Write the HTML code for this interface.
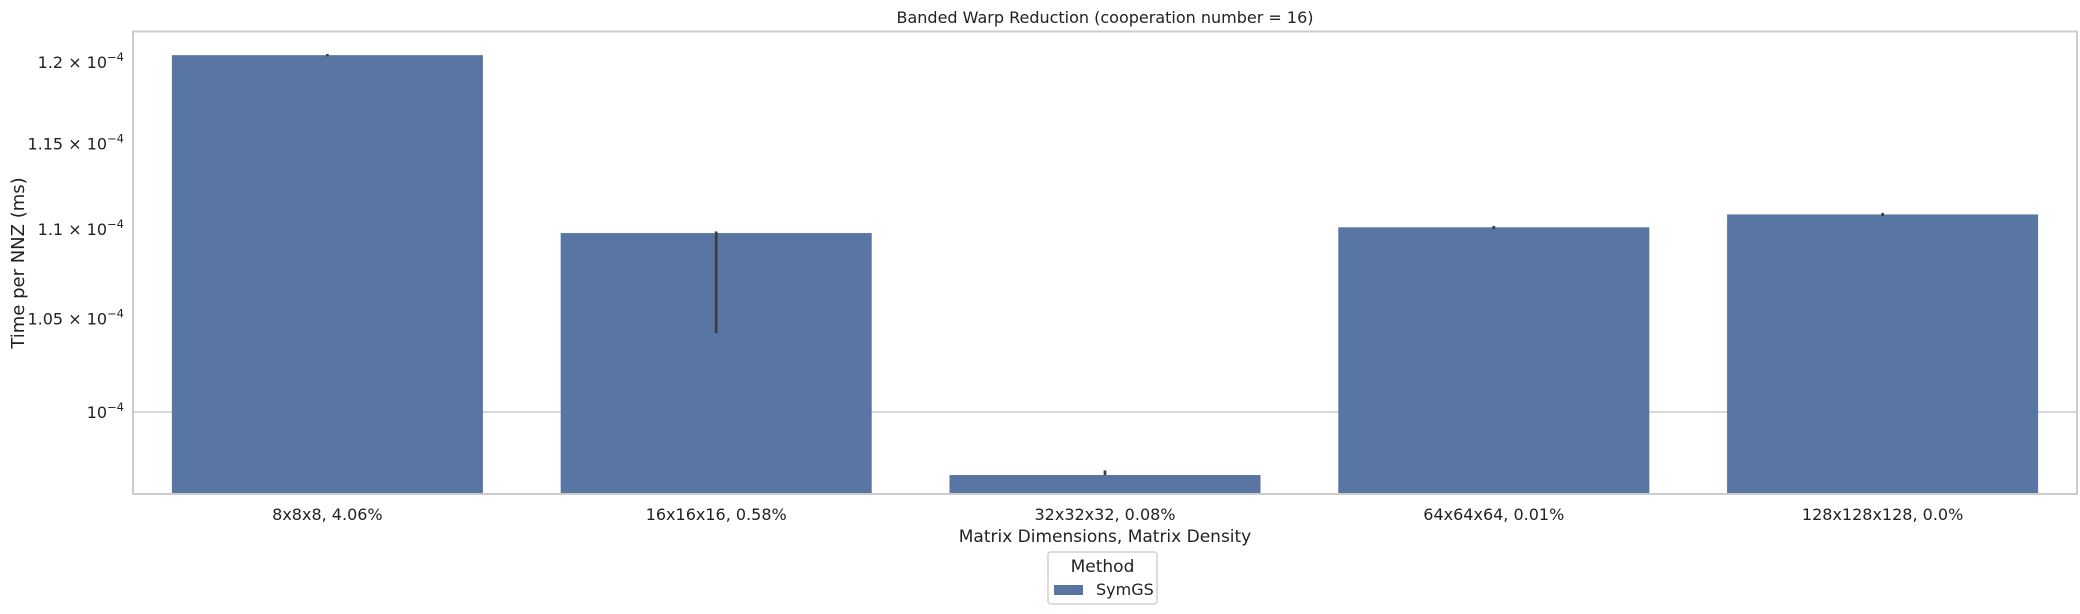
<!DOCTYPE html>
<html><head><meta charset="utf-8">
<style>
html,body{margin:0;padding:0;background:#fff;}
svg{display:block;font-family:"DejaVu Sans","Liberation Sans",sans-serif;}
</style></head>
<body>
<svg id="chart" width="2080" height="614" viewBox="0 0 2080 614" xmlns="http://www.w3.org/2000/svg">
<rect x="0" y="0" width="2080" height="614" fill="#fff"/>
<g id="grid"></g>
<g id="bars"></g>
<g id="errs"></g>
<rect x="133" y="31.5" width="1944" height="462.5" fill="none" stroke="#cccccc" stroke-width="2"/>
<g id="yticks"></g>
<g id="xticks"></g>
<text x="1105" y="23" font-size="16" text-anchor="middle" fill="#222">Banded Warp Reduction (cooperation number = 16)</text>
<text transform="translate(24,263) rotate(-90)" font-size="18" text-anchor="middle" fill="#222">Time per NNZ (ms)</text>
<text x="1105" y="542" font-size="17" text-anchor="middle" fill="#222">Matrix Dimensions, Matrix Density</text>
<g>
<rect x="1048" y="552" width="109" height="52" rx="3" fill="#fff" stroke="#d0d0d0" stroke-width="1.5"/>
<text x="1102.5" y="572" font-size="17" text-anchor="middle" fill="#222">Method</text>
<rect x="1054" y="585" width="29" height="10" fill="#5975a4"/>
<text x="1096" y="595" font-size="16" fill="#222">SymGS</text>
</g>
</svg>
<script>
const categories = ["8x8x8, 4.06%","16x16x16, 0.58%","32x32x32, 0.08%","64x64x64, 0.01%","128x128x128, 0.0%"];
const values = [1.2043e-4, 1.0977e-4, 0.9677e-4, 1.1010e-4, 1.1084e-4];
const errLow = [1.2035e-4, 1.0420e-4, 0.9677e-4, 1.1000e-4, 1.1075e-4];
const errHigh = [1.2050e-4, 1.0986e-4, 0.9700e-4, 1.1018e-4, 1.1093e-4];
const tickValues = [1.0e-4, 1.05e-4, 1.1e-4, 1.15e-4, 1.2e-4];
const tickMantissa = ["", "1.05", "1.1", "1.15", "1.2"];
const majorTicks = [1.0e-4];

const NS = "http://www.w3.org/2000/svg";
const plotL = 133, plotR = 2077, plotT = 31.5, plotB = 494;
const yRef = 412, pxPerDecade = 4420;
function y(v){ return yRef - Math.log10(v/1e-4)*pxPerDecade; }
const band = (plotR-plotL)/categories.length;
function xc(i){ return plotL + band*(i+0.5); }
function mk(tag, attrs, parent){ const e=document.createElementNS(NS,tag); for(const k in attrs) e.setAttribute(k,attrs[k]); parent.appendChild(e); return e; }

const grid=document.getElementById('grid'), bars=document.getElementById('bars'), errs=document.getElementById('errs'), yt=document.getElementById('yticks'), xt=document.getElementById('xticks');

majorTicks.forEach(t=>{
  const yy=y(t);
  const g=mk('line',{x1:plotL,x2:plotR,y1:yy,y2:yy,stroke:'#cccccc','stroke-width':1.5},grid);
  
  
});

tickValues.forEach((t,i)=>{
  const yy=y(t);
  const tx=mk('text',{x:124,y:yy+6,'font-size':16,'text-anchor':'end',fill:'#222'},yt);
  
  
  const m=tickMantissa[i];
  tx.appendChild(document.createTextNode((m? m+" \u00d7 ":"")+"10"));
  const sup=mk('tspan',{dy:-7,'font-size':11.5},tx);
  sup.textContent="\u22124";
});

categories.forEach((c,i)=>{
  const w=band*0.8, x0=xc(i)-w/2, top=y(values[i]);
  const r=mk('rect',{x:x0,y:top,width:w,height:plotB-top,fill:'#5975a4'},bars);
  
  
  const e=mk('line',{x1:xc(i),x2:xc(i),y1:y(errHigh[i]),y2:y(errLow[i]),stroke:'#3d3d3d','stroke-width':2.7},errs);
  
  
  const t=mk('text',{x:xc(i),y:520,'font-size':16,'text-anchor':'middle',fill:'#222'},xt);
  
  
  t.textContent=c;
});
</script>
</body></html>
